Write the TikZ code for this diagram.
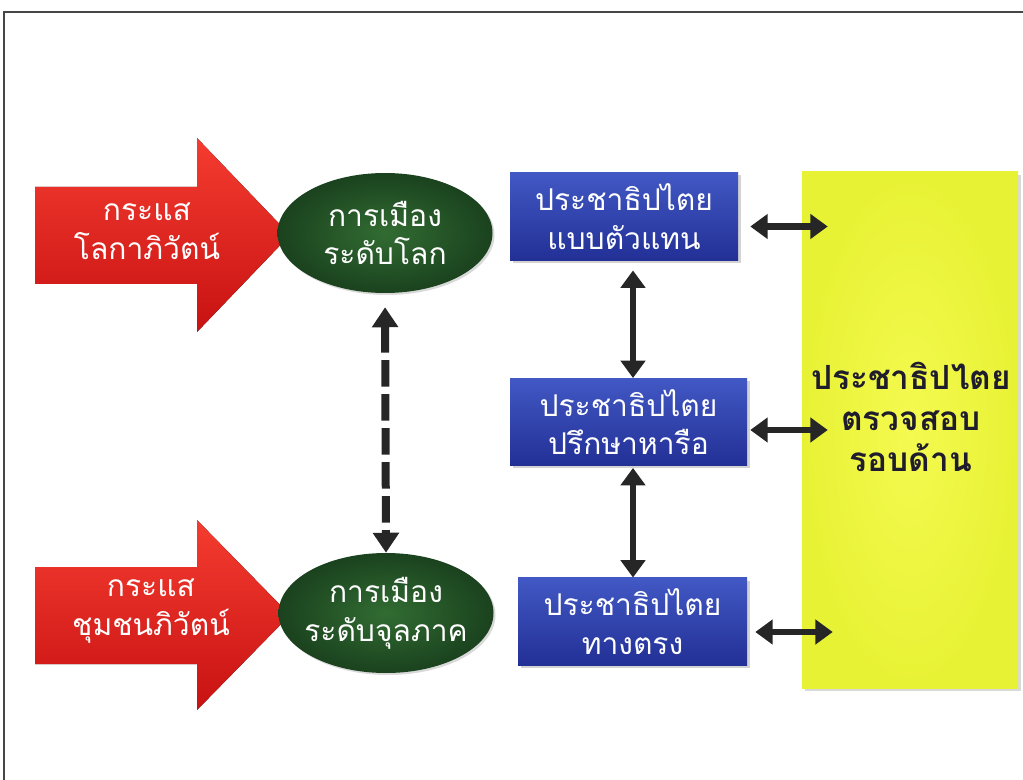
\documentclass[tikz,border=0pt]{standalone}
\usepackage{fontspec}
\newfontfamily\thai[Script=Thai]{Loma}
\usetikzlibrary{shapes.geometric,arrows.meta,calc,shadows}
\definecolor{framec}{RGB}{70,70,70}
\definecolor{redtop}{RGB}{244,60,48}
\definecolor{redbot}{RGB}{200,18,18}
\definecolor{greenin}{RGB}{50,108,50}
\definecolor{greenout}{RGB}{26,66,30}
\definecolor{bluetop}{RGB}{66,88,196}
\definecolor{bluebot}{RGB}{34,48,150}
\definecolor{yellowin}{RGB}{244,250,80}
\definecolor{yellowout}{RGB}{232,242,52}
\definecolor{arrowc}{RGB}{38,38,38}
\definecolor{ytext}{RGB}{30,28,45}
\begin{document}
\begin{tikzpicture}[x=0.75pt,y=-0.75pt,
  thaitext/.style={font=\thai\fontsize{22.5}{29}\selectfont, align=center, text=white},
  redarrow/.style={top color=redtop, bottom color=redbot, draw=none},
  ell/.style={ellipse, minimum width=161.25pt, minimum height=90pt,
    inner xsep=-40pt, inner ysep=-25pt,
    inner color=greenin, outer color=greenout, thaitext,
    drop shadow={opacity=0.3, shadow xshift=1.5pt, shadow yshift=-1.5pt}},
  bbox/.style={rectangle, minimum height=65.5pt, inner sep=0pt,
    top color=bluetop, bottom color=bluebot, thaitext,
    drop shadow={opacity=0.35, shadow xshift=2pt, shadow yshift=-2pt}},
  ybox/.style={rectangle, minimum width=162pt, minimum height=387pt, inner sep=0pt,
    inner color=yellowin, outer color=yellowout,
    drop shadow={opacity=0.3, shadow xshift=2pt, shadow yshift=-2pt}},
  link/.style={line width=5pt, color=arrowc,
    {Triangle[width=18pt,length=13pt]}-{Triangle[width=18pt,length=13pt]}},
  dlink/.style={line width=6pt, color=arrowc, dash pattern=on 20pt off 5.5pt,
    {Triangle[width=19pt,length=15pt]}-{Triangle[width=19pt,length=15pt]}}
]
\path[use as bounding box] (0,0) rectangle (1023,780);
\draw[framec, line width=1.5pt] (1023,12) -- (4,12) -- (4,780);

% red arrows
\fill[redarrow] (35,187) -- (197,187) -- (197,138) -- (290,235) -- (197,332) -- (197,284) -- (35,284) -- cycle;
\fill[redarrow] (35,567) -- (197,567) -- (197,520) -- (290,615) -- (197,710) -- (197,664) -- (35,664) -- cycle;
\node[thaitext] (r1) at (147,231) {กระแส\\โลกาภิวัตน์};
\node[thaitext] (r2) at (151,611) {กระแส\\ชุมชนภิวัตน์};

% ellipses
\node[ell] (e1) at (385,233) {การเมือง\\ระดับโลก};
\node[ell] (e2) at (386,613) {การเมือง\\ระดับจุลภาค};

% blue boxes
\node[bbox, minimum width=171pt] (b1) at (624,216.5) {ประชาธิปไตย\\แบบตัวแทน};
\node[bbox, minimum width=177.75pt] (b2) at (628.5,422) {ประชาธิปไตย\\ปรึกษาหารือ};
\node[bbox, minimum width=171.75pt] (b3) at (632.5,621.5) {ประชาธิปไตย\\ทางตรง};

% yellow box
\node[ybox] (y) at (910,430) {};
\node[font=\thai\bfseries\fontsize{25}{31}\selectfont, align=center, text=ytext] (yt) at (911,417)
  {ประชาธิปไตย\\ตรวจสอบ\\รอบด้าน};

% connector end points
\coordinate (v1s) at ($(b1.south -| b2.north)+(4.5,0)$);
\coordinate (v1e) at ($(b2.north)+(4.5,0)$);
\coordinate (v2s) at ($(b2.south)+(4.5,0)$);
\coordinate (v2e) at ($(b3.north)+(0.5,0)$);

% connectors
\draw[dlink, shorten <=10.5pt] (e1.south) -- (e2.north);
\draw[link, shorten <=7.5pt] (v1s) -- (v1e);
\draw[link, shorten <=1.5pt] (v2s) -- (v2e);
\draw[link] ($(b1.east)+(12,10)$) -- ($(b1.east -| y.west)+(26,10)$);
\draw[link] ($(b2.east)+(3,8)$) -- ($(b2.east -| y.west)+(26,8)$);
\draw[link] ($(b3.east)+(8,10.5)$) -- ($(b3.east -| y.west)+(31,10.5)$);
\end{tikzpicture}
\end{document}
